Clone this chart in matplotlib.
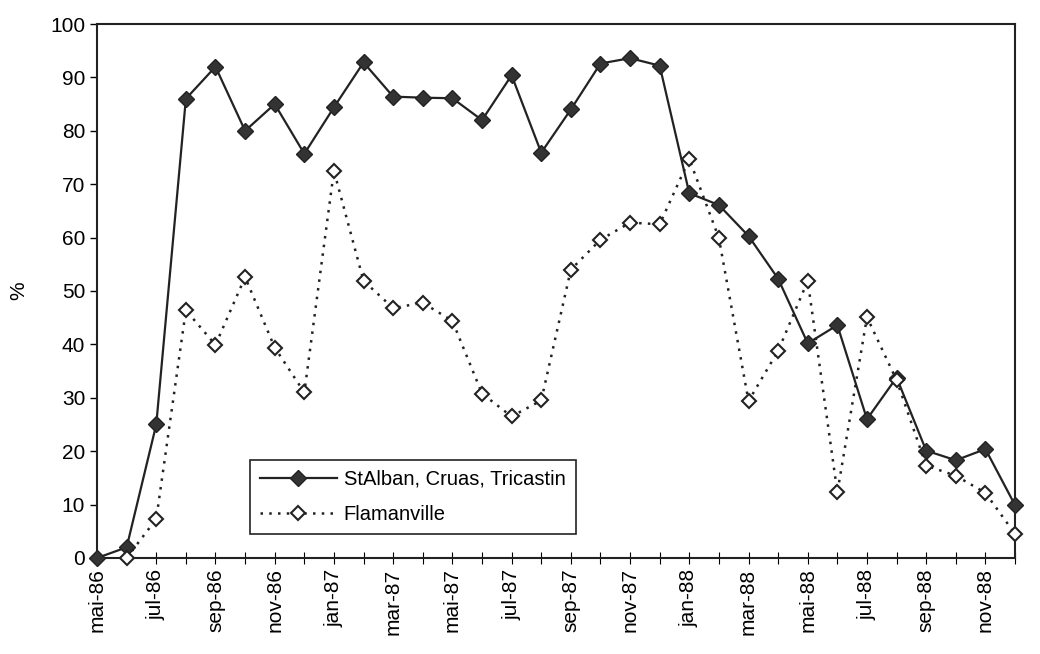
import numpy as np
import matplotlib
matplotlib.use('Agg')
import matplotlib.pyplot as plt

plt.rcParams['font.family'] = ['Liberation Sans', 'DejaVu Sans']

# monthly values, mai-86 .. dec-88
months = ['mai-86', 'jun-86', 'jul-86', 'aou-86', 'sep-86', 'oct-86', 'nov-86', 'dec-86',
          'jan-87', 'fev-87', 'mar-87', 'avr-87', 'mai-87', 'jun-87', 'jul-87', 'aou-87',
          'sep-87', 'oct-87', 'nov-87', 'dec-87', 'jan-88', 'fev-88', 'mar-88', 'avr-88',
          'mai-88', 'jun-88', 'jul-88', 'aou-88', 'sep-88', 'oct-88', 'nov-88', 'dec-88']

stalban = [0, 2, 25, 86, 92, 80, 85, 75.7, 84.4, 92.8, 86.4, 86.2, 86.1, 82, 90.4, 75.9,
           84, 92.6, 93.6, 92.2, 68.3, 66.1, 60.3, 52.3, 40.2, 43.6, 26, 33.8, 20.1, 18.3, 20.4, 9.9]

flamanville = [np.nan, 0, 7.3, 46.4, 39.9, 52.6, 39.4, 31, 72.5, 51.9, 46.8, 47.8, 44.4, 30.8, 26.5, 29.5,
               54, 59.6, 62.8, 62.5, 74.7, 59.9, 29.4, 38.8, 51.9, 12.3, 45.1, 33.3, 17.3, 15.4, 12.2, 4.5]

label_a = 'StAlban, Cruas, Tricastin'
label_b = 'Flamanville'

x = np.arange(len(months))

fig = plt.figure(figsize=(10.4, 6.54), dpi=100)
ax = fig.add_axes([0.0933, 0.1468, 0.8827, 0.8165])

ax.plot(x, stalban, color='#222222', linewidth=1.6, marker='D', markersize=8,
        markerfacecolor='#333333', markeredgecolor='#222222', label=label_a, zorder=3,
        clip_on=False)
ax.plot(x, flamanville, color='#222222', linewidth=1.8, linestyle=(0, (1, 2.5)), marker='D',
        markersize=7, markerfacecolor='white', markeredgecolor='#222222', markeredgewidth=1.5,
        label=label_b, zorder=4, clip_on=False)

ax.set_xlim(0, len(months) - 1)
ax.set_ylim(0, 100)
ax.set_yticks(np.arange(0, 101, 10))
ax.set_xticks(x, minor=True)
ax.set_xticks(x[::2])
ax.set_xticklabels(months[::2], rotation=90, fontsize=15)
ax.tick_params(axis='y', labelsize=15, direction='out', length=5, width=1)
ax.tick_params(axis='x', which='both', direction='inout', length=8, width=0.8)
ax.set_ylabel('%', fontsize=15, labelpad=16)

for s in ax.spines.values():
    s.set_linewidth(1.5)
    s.set_color('#222222')

leg = ax.legend(loc='lower left', bbox_to_anchor=(0.1667, 0.045), borderaxespad=0,
                fancybox=False, edgecolor='#222222', fontsize=14.5, handlelength=3.8,
                handletextpad=0.35, labelspacing=0.8, borderpad=0.5, framealpha=1)
leg.get_frame().set_linewidth(1.2)

fig.savefig('out.png', dpi=100)
